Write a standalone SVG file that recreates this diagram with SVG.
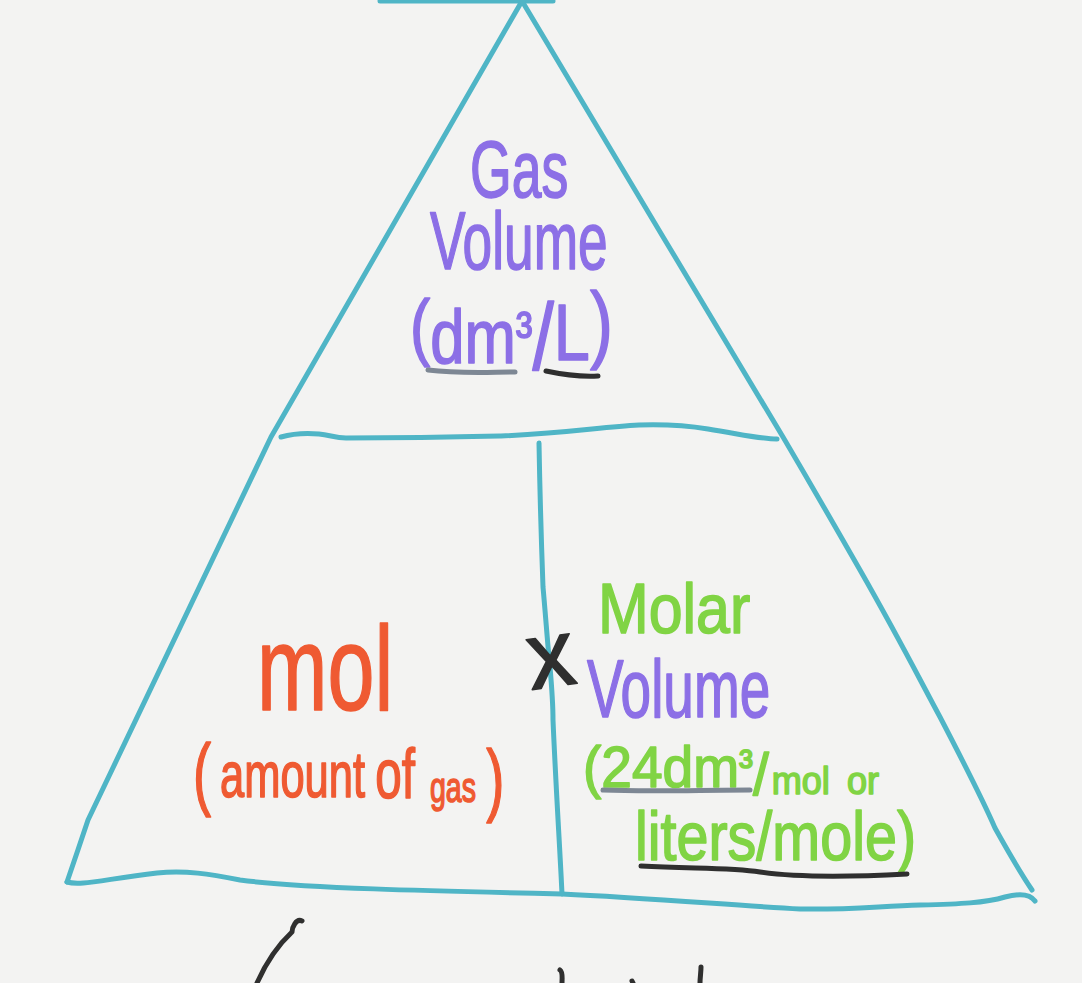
<svg xmlns="http://www.w3.org/2000/svg" width="1082" height="983" viewBox="0 0 1082 983">
  <style>
    .ln { fill: none; stroke: #4fb5c6; stroke-width: 5; stroke-linecap: round; stroke-linejoin: round; }
    .ink { fill: none; stroke-linecap: round; stroke-linejoin: round; stroke-width: 5; }
    .t { font-family: "Liberation Sans", Arial, sans-serif; stroke-width: 1.6; stroke-linejoin: round; }
    .pur { fill: #8c6fe6; stroke: #8c6fe6; }
    .org { fill: #ef5a32; stroke: #ef5a32; }
    .grn { fill: #80d444; stroke: #80d444; }
    .blk { fill: #2f2f2f; stroke: #2f2f2f; }
  </style>
  <rect width="1082" height="983" fill="#f3f3f2"/>

  <g id="connectors">
    <path class="ln" d="M380,1 L553,1"/>
    <path class="ln" d="M522,1 L271,437 L88,820 Q78,850 67,882"/>
    <path class="ln" d="M522,1 C600,130 700,300 783,437 C820,500 840,535 860,570 C900,640 920,680 940,717 C965,765 985,805 995,828 C1010,855 1022,875 1032,890"/>
    <path class="ln" d="M67,882 C80,886 100,880 157,873 C185,870 210,874 240,880 C300,888 430,891 562,894 C650,898 740,906 800,909 C850,910 880,906 920,905 C960,904 985,903 1005,897 C1020,893 1030,894 1035,901"/>
    <path class="ln" d="M281,437 C295,433 308,433 319,434 C330,435 335,438 346,438 C420,438 460,437 501,436 C570,433 600,427 639,425 C670,424 690,426 708,429 C740,434 760,439 777,439"/>
    <path class="ln" d="M539,443 C540,500 542,560 543,587 C546,620 548,650 550,667 C552,690 553,705 553,720 C556,790 560,850 562,894"/>
  </g>

  <g id="node-gas-volume">
    <text class="t pur" transform="translate(470 0) scale(0.67 1)" x="0" y="197" font-size="80">Gas</text>
    <text class="t pur" transform="translate(430 0) scale(0.65 1)" x="0" y="269" font-size="82">Volume</text>
    <text class="t pur" transform="translate(410 0) scale(0.81 1)" x="0" y="352"><tspan font-size="75" y="352">(</tspan><tspan font-size="76" y="363">dm</tspan><tspan font-size="62" y="355">³</tspan><tspan font-size="95" y="370">/</tspan><tspan font-size="80" y="360">L</tspan><tspan font-size="85" y="352">)</tspan></text>
    <path class="ink" stroke="#7d8794" d="M428,370 C460,374 490,372 515,372"/>
    <path class="ink" stroke="#2f2f2f" d="M546,371 C560,374 580,377 598,376"/>
  </g>

  <g id="node-mol">
    <text class="t org" transform="translate(257 0) scale(0.705 1)" x="0" y="710" font-size="120">mol</text>
    <text class="t org" transform="translate(193 0) scale(0.68 1)" x="0" y="800"><tspan font-size="80" y="800">(</tspan><tspan font-size="64" y="797" dx="13">amount</tspan><tspan font-size="70" y="798" dx="15">of</tspan><tspan font-size="42" y="802" dx="22">gas</tspan><tspan font-size="80" y="806" dx="15">)</tspan></text>
  </g>

  <g id="node-times">
    <text class="t blk" x="528" y="687" font-size="95" transform="rotate(-8 550 665)">x</text>
  </g>

  <g id="node-molar-volume">
    <text class="t grn" transform="translate(598 0) scale(0.87 1)" x="0" y="633" font-size="70">Molar</text>
    <text class="t pur" transform="translate(587 0) scale(0.67 1)" x="0" y="717" font-size="82">Volume</text>
    <text class="t grn" transform="translate(583 0) scale(0.95 1)" x="0" y="787"><tspan font-size="58" y="787">(24dm</tspan><tspan font-size="44" y="780">³</tspan><tspan font-size="60" y="795">/</tspan><tspan font-size="38" y="794" dx="3">mol</tspan><tspan font-size="38" y="794" dx="18">or</tspan></text>
    <text class="t grn" transform="translate(635 0) scale(0.833 1)" x="0" y="860" font-size="69">liters/mole)</text>
    <path class="ink" stroke="#7d8794" d="M603,790 C650,792 700,790 750,790"/>
    <path class="ink" stroke="#2f2f2f" d="M641,866 C690,869 730,867 760,872 C800,878 850,877 907,874"/>
  </g>

  <g id="bottom-fragments">
    <path class="ink" stroke="#2f2f2f" stroke-width="6" d="M302,921 C296,918 292,928 292,932 C278,945 265,965 257,983"/>
    <path class="ink" stroke="#2f2f2f" stroke-width="6" d="M560,970 C563,972 562,978 562,983"/>
    <path class="ink" stroke="#2f2f2f" stroke-width="6" d="M632,981 L633,983"/>
    <path class="ink" stroke="#2f2f2f" stroke-width="6" d="M701,967 C701,972 700,978 700,983"/>
  </g>
</svg>
